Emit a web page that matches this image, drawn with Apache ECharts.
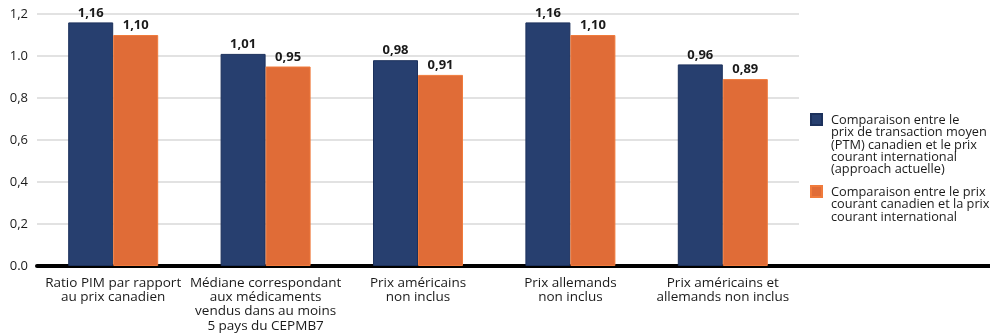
<!DOCTYPE html>
<html>
<head>
<meta charset="utf-8">
<script src="https://cdn.jsdelivr.net/npm/echarts@6/dist/echarts.min.js"></script>
<style>
html,body{margin:0;padding:0;background:#fff;}
#chart{width:1000px;height:336px;}
</style>
</head>
<body>
<div id="chart"></div>
<script>
const categories = [
  "Ratio PIM par rapport\nau prix canadien",
  "Médiane correspondant\naux médicaments\nvendus dans au moins\n5 pays du CEPMB7",
  "Prix américains\nnon inclus",
  "Prix allemands\nnon inclus",
  "Prix américains et\nallemands non inclus"
];
const seriesNames = [
  "Comparaison entre le\nprix de transaction moyen\n(PTM) canadien et le prix\ncourant international\n(approach actuelle)",
  "Comparaison entre le prix\ncourant canadien et la prix\ncourant international"
];
const ptmValues = [1.16, 1.01, 0.98, 1.16, 0.96];
const courantValues = [1.10, 0.95, 0.91, 1.10, 0.89];
const yTickLabels = ["0.0", "0,2", "0,4", "0,6", "0,8", "1.0", "1,2"];

const FONT = "'Open Sans', sans-serif";
const LH = 12.4;
const chart = echarts.init(document.getElementById('chart'), null, {renderer: 'canvas'});

function fmt(v){ return v.toFixed(2).replace('.', ','); }
// square icon at the top of a tall box (trailing moveTo only extends the box), so it sits beside the first text line
function topIcon(lines){
  return 'path://M0,0H11V11H0Z M11,' + (lines * LH).toFixed(2);
}

const legendText = {fontFamily: FONT, fontSize: 12.75, color: '#1a1a1a', lineHeight: LH, padding: [0, 0, 0, 4]};

const option = {
  backgroundColor: '#ffffff',
  animation: false,
  grid: {left: 37, right: 201, top: 14, bottom: 70, containLabel: false},
  xAxis: {
    type: 'category',
    data: categories,
    axisLine: {lineStyle: {color: '#000', width: 4}},
    axisTick: {show: false},
    axisLabel: {
      interval: 0, margin: 10,
      color: '#1a1a1a', fontFamily: FONT, fontSize: 13.5, lineHeight: 14.2
    }
  },
  yAxis: {
    type: 'value', min: 0, max: 1.2, interval: 0.2,
    axisLine: {show: false},
    axisTick: {show: false},
    splitLine: {lineStyle: {color: '#d9d9d9', width: 1.5}},
    axisLabel: {
      margin: 9, color: '#1a1a1a', fontFamily: FONT, fontSize: 13,
      formatter: function(v){ return yTickLabels[Math.round(v / 0.2)]; }
    }
  },
  legend: [
    {
      orient: 'vertical', left: 810, top: 113, padding: 0,
      itemWidth: 11, itemHeight: 5 * LH, itemGap: 0,
      data: [{name: seriesNames[0], icon: topIcon(5)}],
      textStyle: legendText
    },
    {
      orient: 'vertical', left: 810, top: 185, padding: 0,
      itemWidth: 11, itemHeight: 3 * LH, itemGap: 0,
      data: [{name: seriesNames[1], icon: topIcon(3)}],
      textStyle: legendText
    }
  ],
  series: [
    {
      name: seriesNames[0], type: 'bar', data: ptmValues,
      barWidth: 45, barGap: '0%',
      itemStyle: {color: '#273f6f', borderColor: '#1c315c', borderWidth: 1},
      label: {show: true, position: 'top', distance: 3, fontFamily: FONT, fontWeight: 'bold', fontSize: 13, color: '#1a1a1a',
        formatter: function(p){ return fmt(p.value); }}
    },
    {
      name: seriesNames[1], type: 'bar', data: courantValues,
      barWidth: 45,
      itemStyle: {color: '#e06c37', borderColor: '#f07b3c', borderWidth: 1},
      label: {show: true, position: 'top', distance: 3, fontFamily: FONT, fontWeight: 'bold', fontSize: 13, color: '#1a1a1a',
        formatter: function(p){ return fmt(p.value); }}
    }
  ],
  graphic: [
    {type: 'line', shape: {x1: 799, y1: 266, x2: 990, y2: 266}, style: {stroke: '#000', lineWidth: 4}, z: 10}
  ]
};
chart.setOption(option);
</script>
</body>
</html>
